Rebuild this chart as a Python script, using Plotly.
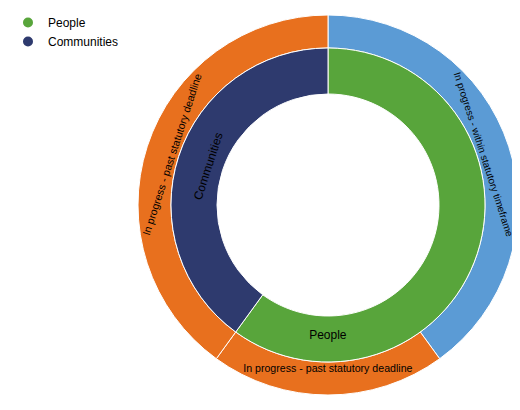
import plotly.graph_objects as go

inner_labels = ["People", "Communities"]
inner_values = [60, 40]
inner_colors = ["#58a53b", "#2e3a6e"]

outer_labels = ["In progress - within statutory timeframe",
                "In progress - past statutory deadline",
                "In progress - past statutory deadline"]
outer_values = [40, 20, 40]
outer_colors = ["#5b9bd5", "#e8701e", "#e8701e"]

W, H = 520, 410
cx, cy, R = 320, 197, 190
r_mid, r_in = 157, 111

def dom(r):
    return dict(x=[(cx - r) / W, (cx + r) / W], y=[(H - cy - r) / H, (H - cy + r) / H])

fig = go.Figure()
fig.add_trace(go.Pie(values=outer_values, labels=[f"o{i}" for i in range(3)],
                     text=outer_labels, textinfo="text", textposition="inside",
                     sort=False, direction="clockwise", automargin=False,
                     rotation=0, hole=r_mid / R, domain=dom(R), showlegend=False,
                     marker=dict(colors=outer_colors, line=dict(color="white", width=1)),
                     insidetextorientation="tangential",
                     insidetextfont=dict(color="black", size=12),
                     hoverinfo="text"))
fig.add_trace(go.Pie(values=inner_values, labels=inner_labels, textinfo="label",
                     textposition="inside", automargin=False,
                     sort=False, direction="clockwise", rotation=0, hole=r_in / r_mid,
                     domain=dom(r_mid), showlegend=False,
                     marker=dict(colors=inner_colors, line=dict(color="white", width=1)),
                     insidetextorientation="tangential",
                     insidetextfont=dict(color="black", size=12)))
for lab, col in zip(inner_labels, inner_colors):
    fig.add_trace(go.Scatter(x=[None], y=[None], mode="markers", name=lab,
                             marker=dict(color=col, size=10, symbol="circle")))

fig.update_layout(width=W, height=H, margin=dict(l=0, r=0, t=0, b=0, autoexpand=False),
                  paper_bgcolor="white", plot_bgcolor="white",
                  font=dict(family="Liberation Sans, Arial", size=12, color="black"),
                  xaxis=dict(visible=False, domain=[0.9, 1]), yaxis=dict(visible=False, domain=[0, 0.1]),
                  legend=dict(x=0, y=1, xanchor="left", yanchor="top",
                              font=dict(size=12), itemwidth=30, tracegroupgap=0))
fig.write_html("out.html")
